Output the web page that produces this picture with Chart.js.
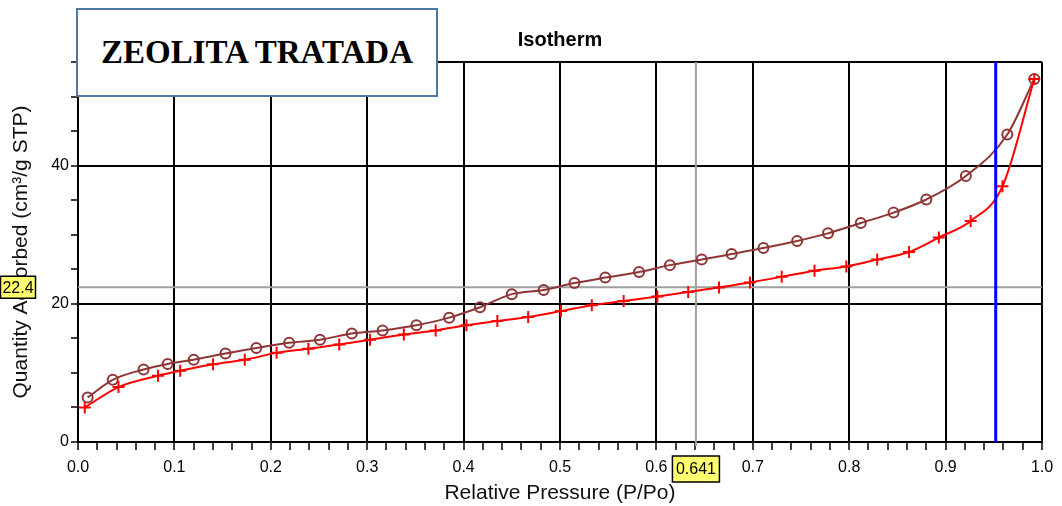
<!DOCTYPE html>
<html>
<head>
<meta charset="utf-8">
<title>Isotherm</title>
<script src="https://cdn.jsdelivr.net/npm/chart.js@4.4.0/dist/chart.umd.min.js"></script>
<style>
  body { margin: 0; background: #fff; }
  #wrap { position: relative; width: 1062px; height: 506px; }
  #sample {
    position: absolute; left: 76px; top: 8px; width: 362px; height: 89px;
    box-sizing: border-box; border: 2px solid #4e79a7; background: #fff;
    display: flex; align-items: center; justify-content: center;
    font: bold 33px "Liberation Serif", "Times New Roman", serif; color: #000;
  }
</style>
</head>
<body>
<div id="wrap">
  <canvas id="iso"></canvas>
  <div id="sample">ZEOLITA TRATADA</div>
</div>
<script>
// adsorption branch (red, +)
const adsP = [0.007, 0.042, 0.083, 0.106, 0.140, 0.173, 0.206, 0.239, 0.271, 0.303,
              0.338, 0.371, 0.403, 0.435, 0.467, 0.501, 0.533, 0.566, 0.601, 0.633,
              0.665, 0.697, 0.730, 0.764, 0.797, 0.829, 0.862, 0.893, 0.926, 0.959, 0.992];
const adsQ = [5.0, 7.95, 9.6, 10.3, 11.25, 11.9, 12.9, 13.5, 14.1, 14.8,
              15.55, 16.15, 16.9, 17.5, 18.1, 18.95, 19.8, 20.4, 21.05, 21.7,
              22.35, 23.1, 23.9, 24.8, 25.4, 26.4, 27.5, 29.6, 32.0, 37.0, 52.55];

// desorption branch (brown, o)
const desP = [0.010, 0.036, 0.068, 0.093, 0.120, 0.153, 0.185, 0.219, 0.251, 0.284,
              0.316, 0.351, 0.385, 0.417, 0.450, 0.483, 0.515, 0.547, 0.582, 0.614,
              0.647, 0.678, 0.711, 0.746, 0.778, 0.812, 0.846, 0.880, 0.921, 0.964, 0.992];
const desQ = [6.45, 9.0, 10.5, 11.3, 11.9, 12.8, 13.6, 14.35, 14.8, 15.7,
              16.15, 16.9, 18.0, 19.5, 21.4, 22.0, 23.0, 23.8, 24.6, 25.6,
              26.4, 27.2, 28.07, 29.1, 30.2, 31.7, 33.2, 35.1, 38.5, 44.5, 52.55];

const yLabelled = [0, 20, 40];
const cursorP = 0.641;
const cursorQ = 22.4;
const markerP = 0.952;

const toXY = (xs, ys) => xs.map((v, i) => ({ x: v, y: ys[i] }));
const isTenth = v => Math.round(v * 50) % 5 === 0;

function yellowBox(ctx, text, cx, cy, w, h) {
  ctx.fillStyle = '#ffff70';
  ctx.fillRect(cx - w / 2, cy - h / 2, w, h);
  ctx.strokeStyle = '#000';
  ctx.lineWidth = 1.5;
  ctx.strokeRect(cx - w / 2, cy - h / 2, w, h);
  ctx.fillStyle = '#000';
  ctx.textAlign = 'center';
  ctx.textBaseline = 'middle';
  ctx.fillText(text, cx, cy + 1);
}

const cursorPlugin = {
  id: 'cursor',
  beforeDatasetsDraw(chart) {
    const { ctx, chartArea: a, scales: { x, y } } = chart;
    const cx = x.getPixelForValue(cursorP);
    const cy = y.getPixelForValue(cursorQ);
    ctx.save();
    ctx.strokeStyle = '#a0a0a0';
    ctx.lineWidth = 2;
    ctx.beginPath();
    ctx.moveTo(a.left, cy); ctx.lineTo(a.right, cy);
    ctx.moveTo(cx, a.top); ctx.lineTo(cx, a.bottom + 4);
    ctx.stroke();
    ctx.restore();
  },
  afterDatasetsDraw(chart) {
    const { ctx, chartArea: a, scales: { x } } = chart;
    const bx = x.getPixelForValue(markerP);
    ctx.save();
    ctx.strokeStyle = '#0000ff';
    ctx.lineWidth = 3;
    ctx.beginPath();
    ctx.moveTo(bx, a.top); ctx.lineTo(bx, a.bottom);
    ctx.stroke();
    ctx.restore();
  },
  afterDraw(chart) {
    const { ctx, chartArea: a, scales: { x, y } } = chart;
    ctx.save();
    ctx.font = 'bold 20px "Liberation Sans", Arial, sans-serif';
    ctx.fillStyle = '#000';
    ctx.textAlign = 'center';
    ctx.textBaseline = 'middle';
    ctx.fillText('Isotherm', (a.left + a.right) / 2, 40);

    ctx.font = '16px "Liberation Sans", Arial, sans-serif';
    yellowBox(ctx, cursorQ.toFixed(1), 18, y.getPixelForValue(cursorQ), 35, 22);
    yellowBox(ctx, cursorP.toFixed(3), x.getPixelForValue(cursorP), 469, 47, 26);
    ctx.restore();
  }
};

const tickFont = { family: '"Liberation Sans", Arial, sans-serif', size: 16 };
const titleFont = { family: '"Liberation Sans", Arial, sans-serif', size: 21 };

new Chart(document.getElementById('iso'), {
  type: 'line',
  data: {
    datasets: [{
      label: 'Adsorption',
      data: toXY(adsP, adsQ),
      borderColor: '#ff0000',
      backgroundColor: '#ff0000',
      borderWidth: 2,
      pointStyle: 'cross',
      pointRadius: 6,
      pointBorderWidth: 2,
      cubicInterpolationMode: 'monotone'
    }, {
      label: 'Desorption',
      data: toXY(desP, desQ),
      borderColor: '#8e3636',
      backgroundColor: 'rgba(0,0,0,0)',
      borderWidth: 2,
      pointStyle: 'circle',
      pointRadius: 5,
      pointBorderWidth: 2,
      cubicInterpolationMode: 'monotone'
    }]
  },
  options: {
    responsive: true,
    maintainAspectRatio: false,
    animation: false,
    layout: { padding: { left: 0, right: 20, top: 62, bottom: 0 } },
    plugins: {
      legend: { display: false },
      tooltip: { enabled: false }
    },
    scales: {
      x: {
        type: 'linear',
        min: 0,
        max: 1,
        afterFit(scale) { scale.height = 64; },
        border: { color: '#000', width: 2 },
        grid: {
          color: c => isTenth(c.tick.value) ? '#000' : 'rgba(0,0,0,0)',
          lineWidth: 2,
          tickColor: '#000',
          tickWidth: 1.5,
          tickLength: 8
        },
        ticks: {
          stepSize: 0.02,
          autoSkip: false,
          maxRotation: 0,
          padding: 8,
          color: '#000',
          font: tickFont,
          callback: v => isTenth(v) ? v.toFixed(1) : ''
        },
        title: {
          display: true,
          text: 'Relative Pressure (P/Po)',
          color: '#111',
          font: titleFont,
          padding: { top: 0, bottom: 0 }
        }
      },
      y: {
        type: 'linear',
        min: 0,
        max: 55,
        afterFit(scale) { scale.width = 78; },
        border: { color: '#000', width: 2 },
        grid: {
          color: c => (yLabelled.includes(c.tick.value) || c.tick.value === 55) ? '#000' : 'rgba(0,0,0,0)',
          lineWidth: 2,
          tickColor: '#000',
          tickWidth: 1.5,
          tickLength: 7
        },
        ticks: {
          stepSize: 5,
          autoSkip: false,
          padding: 2,
          color: '#000',
          font: tickFont,
          callback: v => yLabelled.includes(v) ? String(v) : ''
        },
        title: {
          display: true,
          text: 'Quantity Adsorbed (cm³/g STP)',
          color: '#111',
          font: titleFont,
          padding: { top: 9, bottom: 0 }
        }
      }
    }
  },
  plugins: [cursorPlugin]
});
</script>
</body>
</html>
